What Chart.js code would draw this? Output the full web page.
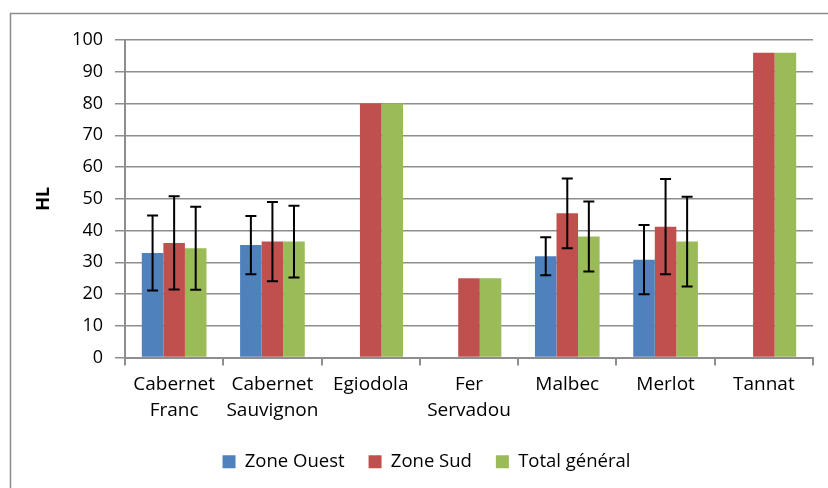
<!DOCTYPE html>
<html>
<head>
<meta charset="utf-8">
<script src="https://cdn.jsdelivr.net/npm/chart.js@4/dist/chart.umd.min.js"></script>
<style>
  html, body { margin: 0; padding: 0; background: #fff; }
  #wrap { width: 828px; height: 488px; position: relative; }
</style>
</head>
<body>
<div id="wrap"><canvas id="c" width="828" height="488"></canvas></div>
<script>
const categories = [["Cabernet", "Franc"], ["Cabernet", "Sauvignon"], "Egiodola", ["Fer", "Servadou"], "Malbec", "Merlot", "Tannat"];
const seriesNames = ["Zone Ouest", "Zone Sud", "Total général"];
const zoneOuest = [32.9, 35.4, null, null, 31.9, 30.8, null];
const zoneOuestErr = [11.8, 9.2, null, null, 6.0, 10.9, null];
const zoneSud = [36.1, 36.5, 80, 25, 45.4, 41.2, 96];
const zoneSudErr = [14.7, 12.5, null, null, 11.0, 15.0, null];
const totalGeneral = [34.4, 36.5, 80, 25, 38.1, 36.5, 96];
const totalGeneralErr = [13.1, 11.3, null, null, 11.0, 14.1, null];
const yTicks = [0, 10, 20, 30, 40, 50, 60, 70, 80, 90, 100];

const FONT = "'Open Sans', sans-serif";
const GRID = '#8e8e8e';

const errorBars = {
  id: 'errorBars',
  afterDatasetsDraw(chart) {
    const ctx = chart.ctx;
    const y = chart.scales.y;
    ctx.save();
    ctx.strokeStyle = '#000';
    ctx.lineWidth = 2;
    chart.data.datasets.forEach((ds, i) => {
      const meta = chart.getDatasetMeta(i);
      meta.data.forEach((el, j) => {
        const v = ds.data[j], e = ds.errors[j];
        if (v == null || e == null) return;
        const x = el.x;
        const yt = y.getPixelForValue(v + e);
        const yb = y.getPixelForValue(v - e);
        ctx.beginPath();
        ctx.moveTo(x, yt); ctx.lineTo(x, yb);
        ctx.moveTo(x - 5.5, yt); ctx.lineTo(x + 5.5, yt);
        ctx.moveTo(x - 5.5, yb); ctx.lineTo(x + 5.5, yb);
        ctx.stroke();
      });
    });
    ctx.restore();
  }
};

const frame = {
  id: 'frame',
  afterLayout(chart) {
    if (chart.legend) { chart.legend.left += 15; chart.legend.right += 15; }
  },
  beforeDraw(chart) {
    const ctx = chart.ctx;
    ctx.save();
    ctx.fillStyle = '#fff';
    ctx.fillRect(0, 0, chart.width, chart.height);
    ctx.strokeStyle = '#8c8c8c';
    ctx.lineWidth = 1.5;
    ctx.strokeRect(10.5, 13.5, chart.width + 20, chart.height + 20);
    ctx.restore();
  }
};

new Chart(document.getElementById('c'), {
  type: 'bar',
  data: {
    labels: categories,
    datasets: [
      { label: seriesNames[0], data: zoneOuest, errors: zoneOuestErr, backgroundColor: '#4F81BD' },
      { label: seriesNames[1], data: zoneSud, errors: zoneSudErr, backgroundColor: '#C0504D' },
      { label: seriesNames[2], data: totalGeneral, errors: totalGeneralErr, backgroundColor: '#9BBB59' }
    ]
  },
  options: {
    responsive: false,
    animation: false,
    devicePixelRatio: 1,
    layout: { padding: { left: 10, right: 15, top: 40, bottom: 7 } },
    datasets: { bar: { categoryPercentage: 0.658, barPercentage: 1.0 } },
    plugins: {
      tooltip: { enabled: false },
      legend: {
        position: 'bottom',
        labels: {
          boxWidth: 13, boxHeight: 13, padding: 24,
          color: '#000',
          font: { family: FONT, size: 18.5 }
        }
      }
    },
    scales: {
      x: {
        afterFit(s) { s.height = 71; },
        grid: { display: true, drawOnChartArea: false, drawTicks: true, tickLength: 8, color: GRID, lineWidth: 2, offset: true },
        border: { display: true, color: GRID, width: 2 },
        ticks: { color: '#000', padding: 6, maxRotation: 0, autoSkip: false, font: { family: FONT, size: 19, lineHeight: 1.37 } }
      },
      y: {
        min: 0, max: 100,
        afterFit(s) { s.width = 115; },
        afterBuildTicks(s) { s.ticks = yTicks.map(v => ({ value: v })); },
        grid: { color: GRID, lineWidth: 1.5, tickLength: 10 },
        border: { display: true, color: GRID, width: 2 },
        ticks: { color: '#000', padding: 12, font: { family: FONT, size: 18 } },
        title: { display: true, text: 'HL', color: '#000', padding: { top: 23, bottom: 0 }, font: { family: FONT, size: 18, weight: 'bold' } }
      }
    }
  },
  plugins: [frame, errorBars]
});
</script>
</body>
</html>
